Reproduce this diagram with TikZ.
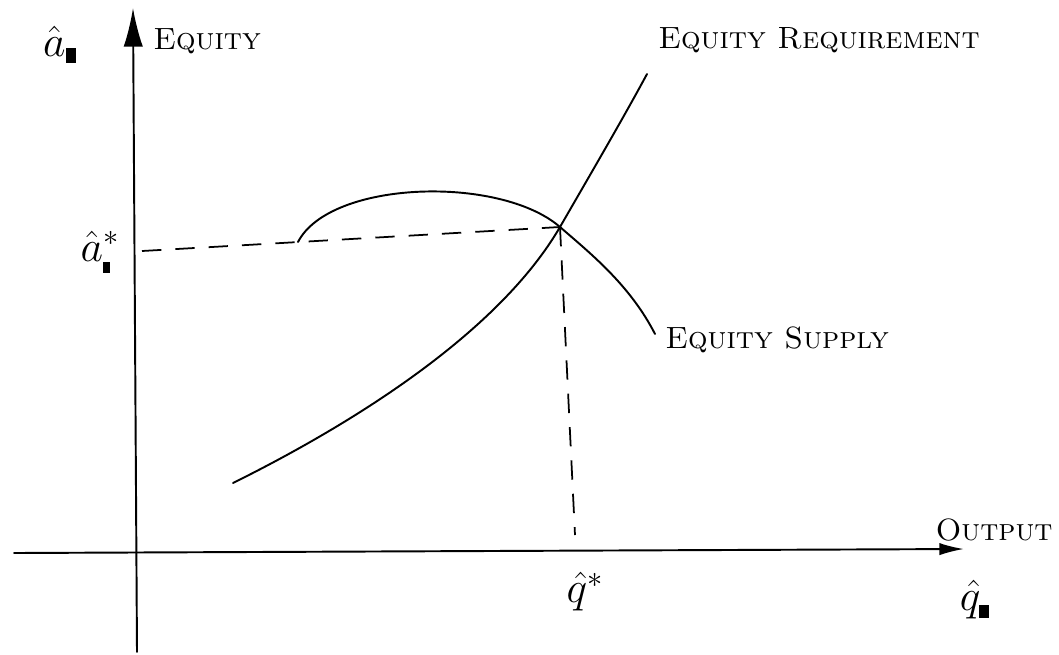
\documentclass[tikz,border=0pt]{standalone}
\usetikzlibrary{arrows.meta}
\begin{document}
\begin{tikzpicture}[x=0.02cm,y=-0.02cm,
  axis/.style={line width=1.1pt,line cap=round},
  curve/.style={line width=1.1pt,line cap=round},
  guide/.style={line width=1pt,dash pattern=on 11pt off 8pt},
  lbl/.style={font=\fontsize{17.5}{21}\selectfont\scshape,anchor=west,inner sep=0pt},
  sym/.style={font=\fontsize{26}{30}\selectfont,inner sep=0pt}]
\useasboundingbox (0,0) rectangle (1059,654);

\coordinate (yb) at (137,652);
\coordinate (yt) at (133,8);
\coordinate (xl) at (14,553);
\coordinate (xr) at (964,549);
\coordinate (eq) at (560,227);
\coordinate (ah) at (142,251);
\coordinate (qv) at (575,535);

\draw[axis,-{Latex[length=22pt,width=11pt]}] (yb) -- (yt);
\draw[axis,-{Latex[length=14pt,width=7pt]}] (xl) -- (xr);

\draw[curve] (233,483) .. controls (360,420) and (500,330) .. (eq)
  .. controls (590,175) and (625,115) .. (647,74);
\draw[curve] (298,242) .. controls (330,180) and (500,175) .. (eq)
  .. controls (590,253) and (630,285) .. (655,334);

\draw[guide] (ah) -- (eq);
\draw[guide] (eq) -- (qv);

\node[sym] (aaxis) at (60,45) {$\hat{a}_{\rule{6pt}{9pt}}$};
\node[sym] (astar) at (100,252) {$\hat{a}^{*}_{\rule{4pt}{6pt}}$};
\node[sym] (qstar) at (585,592) {$\hat{q}^{*}$};
\node[sym] (qaxis) at (975,600) {$\hat{q}_{\rule{6pt}{7pt}}$};

\node[lbl] (equity) at (153,41) {Equity};
\node[lbl] (req) at (658,40) {Equity Requirement};
\node[lbl] (sup) at (665,340) {Equity Supply};
\node[lbl,anchor=east] (out) at (1053,530) {Output};
\end{tikzpicture}
\end{document}
